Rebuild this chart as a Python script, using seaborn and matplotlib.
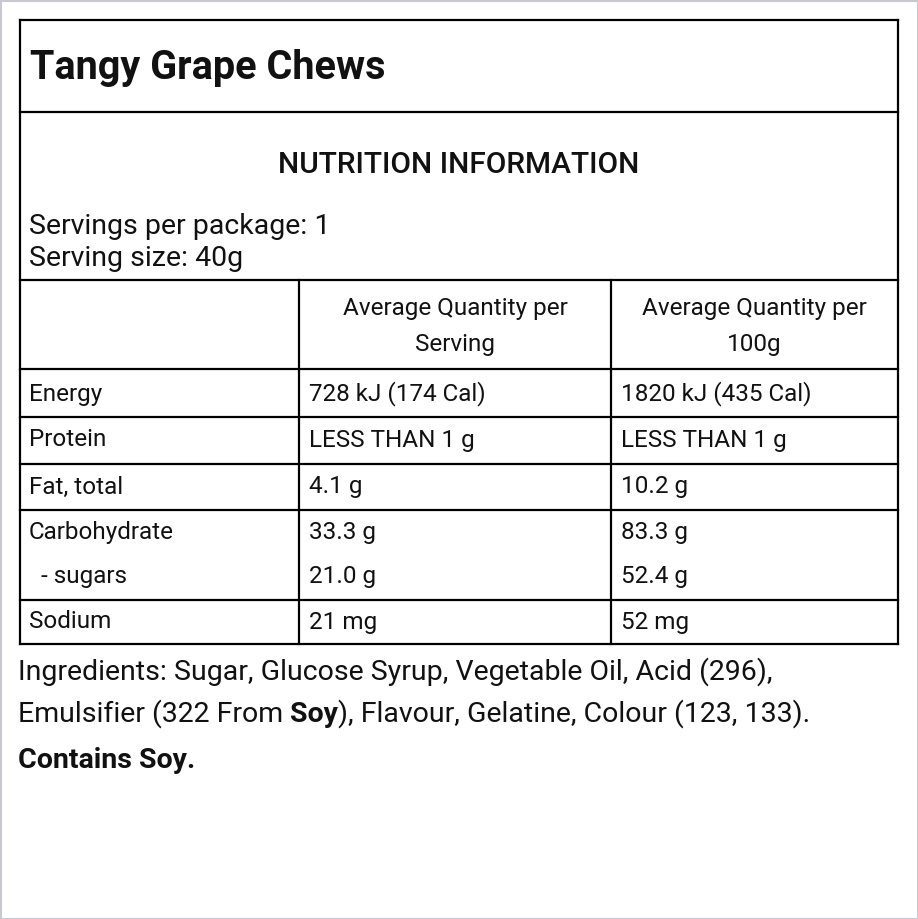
import matplotlib
matplotlib.use("Agg")
import matplotlib.pyplot as plt
import seaborn as sns

TITLE = "Tangy Grape Chews"
HEADING = "NUTRITION INFORMATION"
SERVINGS = ["Servings per package: 1", "Serving size: 40g"]
COL_HEADERS = [["Average Quantity per", "Serving"], ["Average Quantity per", "100g"]]
NUTRIENTS = ["Energy", "Protein", "Fat, total", "Carbohydrate", "  - sugars", "Sodium"]
PER_SERVING = ["728 kJ (174 Cal)", "LESS THAN 1 g", "4.1 g", "33.3 g", "21.0 g", "21 mg"]
PER_100G = ["1820 kJ (435 Cal)", "LESS THAN 1 g", "10.2 g", "83.3 g", "52.4 g", "52 mg"]
TEXT_Y = [394, 440, 487, 532, 577, 622]
INGR_LINE1 = "Ingredients: Sugar, Glucose Syrup, Vegetable Oil, Acid (296),"
INGR_LINE2 = ["Emulsifier (322 From ", "Soy", "), Flavour, Gelatine, Colour (123, 133)."]
CONTAINS = "Contains Soy."

sns.set_style("white")
plt.rcParams["font.family"] = "Roboto"

fig = plt.figure(figsize=(9.18, 9.19), dpi=100)
ax = fig.add_axes([0, 0, 1, 1])
ax.set_xlim(0, 918)
ax.set_ylim(919, 0)
ax.axis("off")

# outer light frame
ax.add_patch(plt.Rectangle((0.5, 0.5), 917, 918, fill=False, ec="#c8c8d2", lw=1.5))

L, R = 20, 898
C1, C2 = 299, 611
lw = 1.6
def hline(y, x0=L, x1=R):
    ax.plot([x0, x1], [y, y], color="black", lw=lw, solid_capstyle="projecting")
def vline(x, y0, y1):
    ax.plot([x, x], [y0, y1], color="black", lw=lw, solid_capstyle="projecting")

for y in [20, 112, 280, 369, 417, 464, 510, 600, 644]:
    hline(y)
vline(L, 20, 644)
vline(R, 20, 644)
vline(C1, 280, 644)
vline(C2, 280, 644)

ax.text(30, 68, TITLE, fontsize=28.5, fontweight="bold", va="center", color="#111")
ax.text(459, 165, HEADING, fontsize=21.5, fontweight="medium", ha="center", va="center", color="#111")
for i, s in enumerate(SERVINGS):
    ax.text(29, 226 + 32 * i, s, fontsize=20.5, va="center", color="#111")

for cx, lines in zip([(C1 + C2) / 2, (C2 + R) / 2], COL_HEADERS):
    for j, s in enumerate(lines):
        ax.text(cx, 309 + 36 * j, s, fontsize=17.5, ha="center", va="center", color="#111")

for y, n, a, b in zip(TEXT_Y, NUTRIENTS, PER_SERVING, PER_100G):
    ax.text(29, y, n, fontsize=17.5, va="center", color="#111")
    ax.text(309, y, a, fontsize=17.5, va="center", color="#111")
    ax.text(621, y, b, fontsize=17.5, va="center", color="#111")

ax.text(18, 672, INGR_LINE1, fontsize=20.5, va="center", color="#111")
fig.canvas.draw()
renderer = fig.canvas.get_renderer()
x = 18
for k, part in enumerate(INGR_LINE2):
    t = ax.text(x, 714, part, fontsize=20.5, va="center", color="#111",
                fontweight="bold" if k == 1 else "normal")
    bb = t.get_window_extent(renderer).transformed(ax.transData.inverted())
    x = bb.x1
ax.text(18, 760, CONTAINS, fontsize=20.5, fontweight="bold", va="center", color="#111")

fig.savefig("out.png", dpi=100)
